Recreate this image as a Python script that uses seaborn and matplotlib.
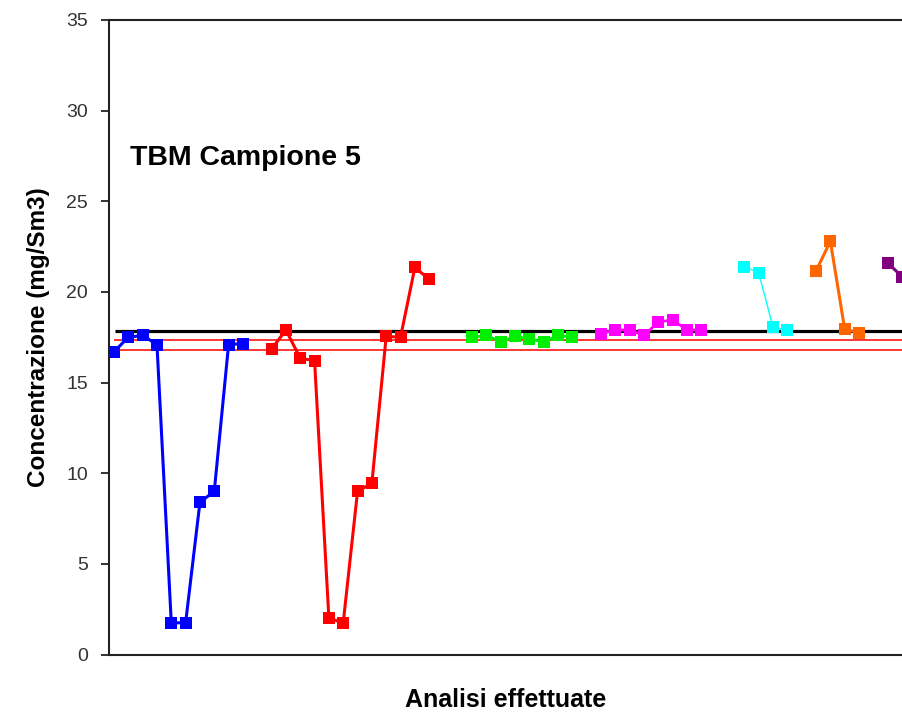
import seaborn as sns
import matplotlib.pyplot as plt

# values (mg/Sm3), one list per sample group
blue_x = [0, 1, 2, 3, 4, 5, 6, 7, 8, 9]
blue_y = [16.7, 17.5, 17.6, 17.1, 1.75, 1.75, 8.4, 9.0, 17.1, 17.15]

red_x = [11, 12, 13, 14, 15, 16, 17, 18, 19, 20, 21, 22]
red_y = [16.85, 17.9, 16.35, 16.2, 2.0, 1.75, 9.0, 9.45, 17.55, 17.5, 21.35, 20.7]

green_x = [25, 26, 27, 28, 29, 30, 31, 32]
green_y = [17.5, 17.6, 17.25, 17.55, 17.4, 17.25, 17.6, 17.5]

magenta_x = [34, 35, 36, 37, 38, 39, 40, 41]
magenta_y = [17.7, 17.9, 17.9, 17.6, 18.35, 18.45, 17.9, 17.9]

cyan_x = [44, 45, 46, 47]
cyan_y = [21.4, 21.05, 18.05, 17.9]

orange_x = [49, 50, 51, 52]
orange_y = [21.15, 22.8, 17.95, 17.75]

purple_x = [54, 55]
purple_y = [21.6, 20.85]

ref_value = 17.85          # black reference line
ref_band = [17.35, 16.8]   # red limit lines

sns.set_style("white")
plt.rcParams["font.family"] = ["Liberation Sans", "DejaVu Sans"]

fig = plt.figure(figsize=(9.02, 7.14), dpi=100)
ax = fig.add_axes([0.1208, 0.0833, 0.8792, 0.8887])

ax.hlines(ref_value, 0.05, 60, color="black", lw=2.3, zorder=1)
ax.hlines(ref_band, 0, 60, color="#ff0000", lw=1.1, zorder=1)

series = [
    (blue_x, blue_y, "#0000ff", 2.2),
    (red_x, red_y, "#ff0000", 2.2),
    (green_x, green_y, "#00ee00", 2.0),
    (magenta_x, magenta_y, "#ff00ff", 2.0),
    (cyan_x, cyan_y, "#00ffff", 1.0),
    (orange_x, orange_y, "#ff6600", 2.2),
    (purple_x, purple_y, "#800080", 2.2),
]
for xs, ys, col, lw in series:
    sns.lineplot(x=xs, y=ys, color=col, lw=lw, marker="s", markersize=9,
                 markeredgewidth=0, ax=ax, zorder=3)

ax.set_xlim(-0.35, 55.0)
ax.set_ylim(0, 35)
ax.set_yticks(range(0, 36, 5))
ax.set_xticks([])

for side in ["left", "bottom", "top"]:
    ax.spines[side].set_color("#222222")
    ax.spines[side].set_linewidth(1.5)
ax.spines["right"].set_visible(False)

ax.tick_params(axis="y", direction="out", length=6, width=1.3, color="#222222",
               left=True, labelsize=14, labelcolor="#333333", pad=9)

ax.set_ylabel("Concentrazione (mg/Sm3)", fontsize=17.5, fontweight="bold",
              labelpad=12, color="black")
ax.set_xlabel("Analisi effettuate", fontsize=18, fontweight="bold",
              labelpad=24, color="black")

ax.text(0.026, 0.7825, "TBM Campione 5", transform=ax.transAxes,
        fontsize=20.5, fontweight="bold", va="center", ha="left", color="black")

fig.savefig("out.png", dpi=100)
